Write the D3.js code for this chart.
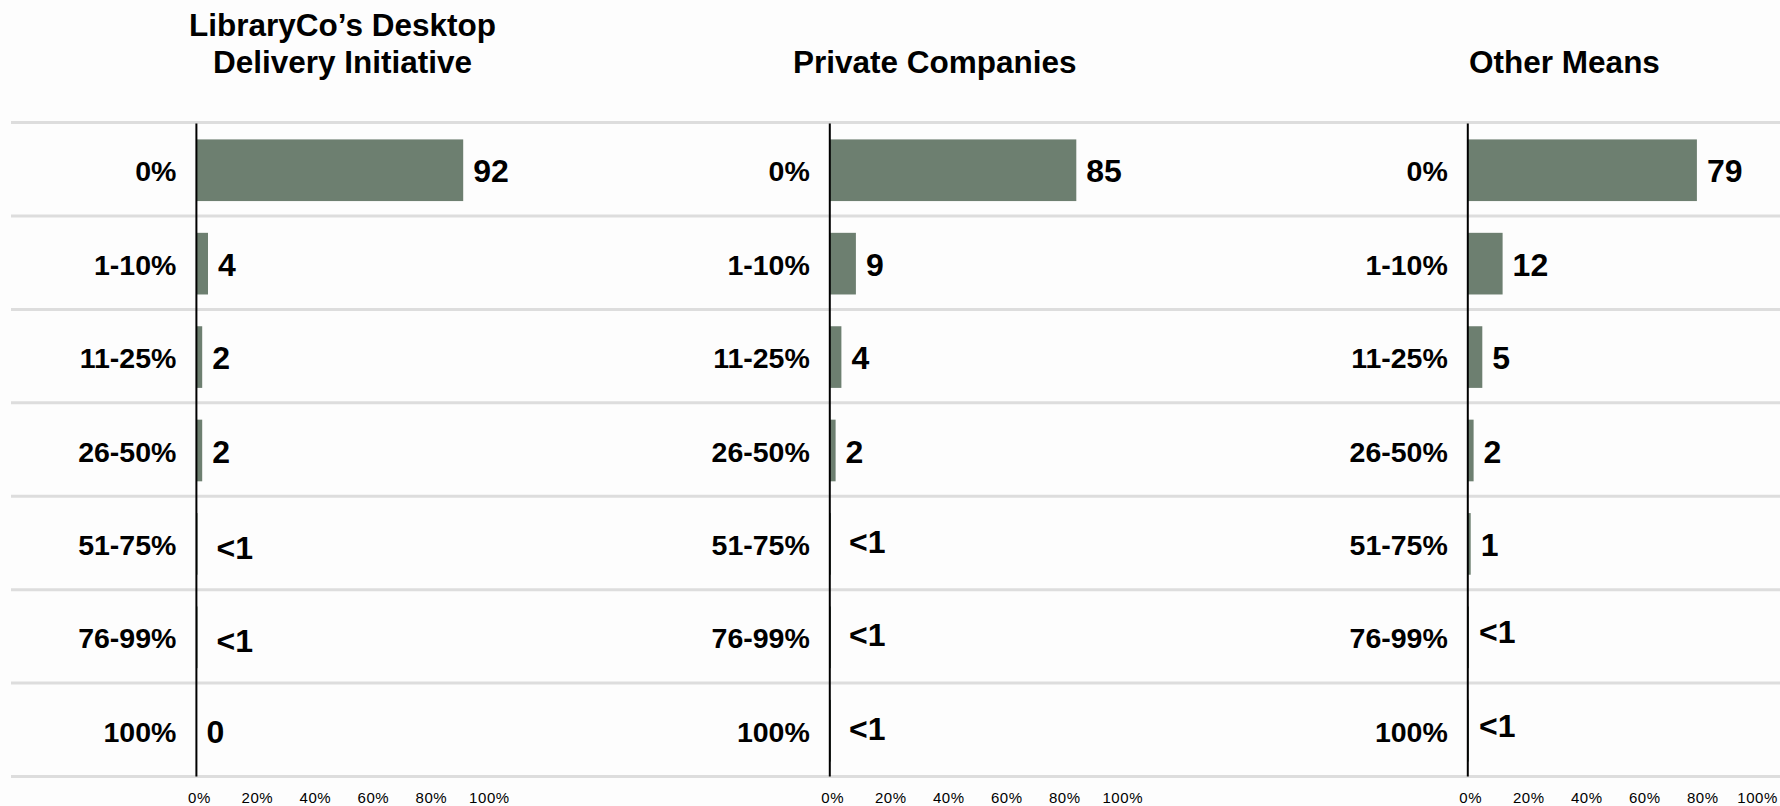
<!DOCTYPE html>
<html>
<head>
<meta charset="utf-8">
<script src="https://cdn.jsdelivr.net/npm/d3@7"></script>
<style>
  body { margin: 0; background: #fdfdfd; }
  text { font-family: "Liberation Sans", Arial, sans-serif; fill: #000; }
</style>
</head>
<body>
<div id="chart"></div>
<script>
var categories = ["0%", "1-10%", "11-25%", "26-50%", "51-75%", "76-99%", "100%"];

var deliveryValues = [92, 4, 2, 2, 0.4, 0.4, 0];
var deliveryLabels = ["92", "4", "2", "2", "<1", "<1", "0"];

var privateValues = [85, 9, 4, 2, 0.4, 0.4, 0.4];
var privateLabels = ["85", "9", "4", "2", "<1", "<1", "<1"];

var otherValues = [79, 12, 5, 2, 1, 0.4, 0.4];
var otherLabels = ["79", "12", "5", "2", "1", "<1", "<1"];

var tickValues = [0, 20, 40, 60, 80, 100];

var titles = [
    ["LibraryCo\u2019s Desktop", "Delivery Initiative"],
    ["Private Companies"],
    ["Other Means"]
];

var width = 1780;
var height = 806;
var barColour = "#6d7f70";

// layout of the three small multiples
var panels = [
    { values: deliveryValues, labels: deliveryLabels, title: titles[0], axisX: 196.4, titleX: 342.5, ltDx: 9, ltDy: 3 },
    { values: privateValues, labels: privateLabels, title: titles[1], axisX: 829.8, titleX: 934.8, ltDx: 8, ltDy: -3 },
    { values: otherValues, labels: otherLabels, title: titles[2], axisX: 1467.8, titleX: 1564.5, ltDx: 0, ltDy: -6 }
];

var svg = d3.select("#chart")
    .append("svg")
    .attr("width", width)
    .attr("height", height);

var y = d3.scaleBand()
    .domain(categories)
    .range([122.6, 776.5])
    .padding(0);

var step = y.step();

// horizontal row separators run the whole width
var gridYs = categories.map(function (c) { return y(c); });
gridYs.push(y(categories[categories.length - 1]) + step);

svg.selectAll(".grid")
    .data(gridYs)
    .enter()
    .append("line")
    .attr("class", "grid")
    .attr("x1", 11)
    .attr("x2", width)
    .attr("y1", function (d) { return d; })
    .attr("y2", function (d) { return d; })
    .style("stroke", "#dddddd")
    .style("stroke-width", 3);

panels.forEach(function (p) {
    var x = d3.scaleLinear()
        .domain([0, 100])
        .range([p.axisX, p.axisX + 290]);

    var g = svg.append("g").attr("class", "panel");

    // title
    var lineYs = p.title.length == 2 ? [36, 72.5] : [72.5];
    g.selectAll(".title")
        .data(p.title)
        .enter()
        .append("text")
        .attr("class", "title")
        .attr("x", p.titleX)
        .attr("y", function (d, i) { return lineYs[i]; })
        .attr("text-anchor", "middle")
        .style("font-size", "31.5px")
        .style("font-weight", "bold")
        .text(function (d) { return d; });

    // bars
    g.selectAll(".bar")
        .data(p.values)
        .enter()
        .append("rect")
        .attr("class", "bar")
        .attr("x", x(0))
        .attr("y", function (d, i) { return y(categories[i]) + step * 0.18; })
        .attr("width", function (d) { return x(d) - x(0); })
        .attr("height", step * 0.66)
        .style("fill", barColour);

    // vertical axis line
    g.append("line")
        .attr("x1", x(0))
        .attr("x2", x(0))
        .attr("y1", y.range()[0] + 1)
        .attr("y2", y.range()[1])
        .style("stroke", "#000")
        .style("stroke-width", 2);

    // category labels
    g.selectAll(".cat")
        .data(categories)
        .enter()
        .append("text")
        .attr("class", "cat")
        .attr("x", x(0) - 20)
        .attr("y", function (d) { return y(d) + step / 2 + 2; })
        .attr("text-anchor", "end")
        .attr("dominant-baseline", "central")
        .style("font-size", "28.5px")
        .style("font-weight", "bold")
        .text(function (d) { return d; });

    // value labels
    g.selectAll(".val")
        .data(p.values)
        .enter()
        .append("text")
        .attr("class", "val")
        .attr("x", function (d, i) {
            return x(d) + 10 + (p.labels[i] == "<1" ? p.ltDx : 0);
        })
        .attr("y", function (d, i) {
            return y(categories[i]) + step / 2 + 2 + (p.labels[i] == "<1" ? p.ltDy : 0);
        })
        .attr("dominant-baseline", "central")
        .style("font-size", "32px")
        .style("font-weight", "bold")
        .text(function (d, i) { return p.labels[i]; });

    // percentage ticks along the bottom
    g.selectAll(".tick")
        .data(tickValues)
        .enter()
        .append("text")
        .attr("class", "tick")
        .attr("x", function (d) { return x(d) + 3; })
        .attr("y", 803)
        .attr("text-anchor", "middle")
        .style("font-size", "15px")
        .style("letter-spacing", "0.6px")
        .text(function (d) { return d + "%"; })
        .each(function () {
            // keep the last tick inside the picture
            var t = d3.select(this);
            var half = this.getComputedTextLength() / 2;
            var cx = +t.attr("x");
            if (cx + half > width - 2) t.attr("x", width - 2 - half);
        });
});
</script>
</body>
</html>
